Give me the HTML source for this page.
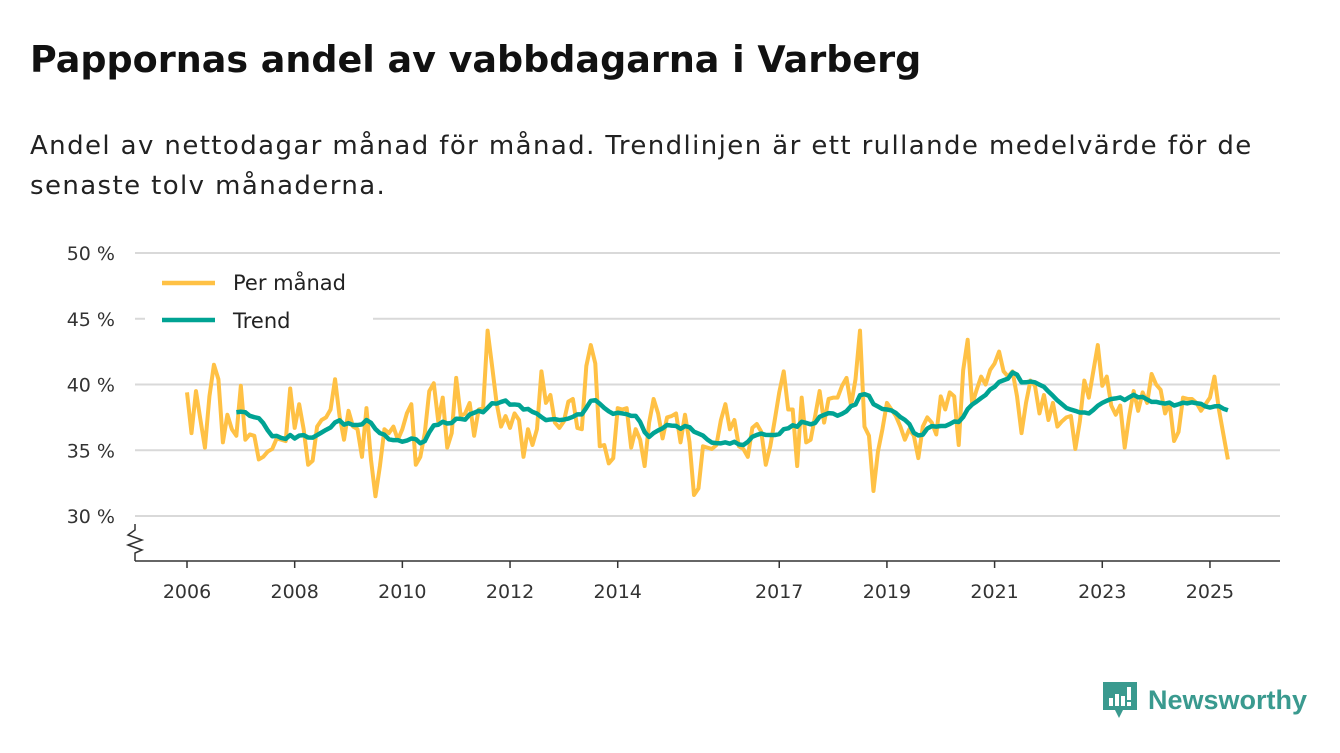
<!DOCTYPE html>
<html><head><meta charset="utf-8">
<style>
body{margin:0;width:1340px;height:753px;background:#fff;font-family:"Liberation Sans",sans-serif;overflow:hidden;position:relative;color:#111}
h1{position:absolute;left:30px;top:38px;margin:0;font-family:"DejaVu Sans",sans-serif;font-size:36.5px;font-weight:bold;color:#111;letter-spacing:0px;white-space:nowrap}
.sub{position:absolute;left:30px;top:126px;margin:0;font-family:"DejaVu Sans",sans-serif;font-size:26px;line-height:40px;color:#222;width:1300px;letter-spacing:1.4px}
svg{position:absolute;left:0;top:0}
</style></head><body>
<h1>Pappornas andel av vabbdagarna i Varberg</h1>
<p class="sub">Andel av nettodagar månad för månad. Trendlinjen är ett rullande medelvärde för de<br>senaste tolv månaderna.</p>
<svg id="chart" width="1340" height="753"></svg>
<div style="position:absolute;left:1103px;top:680px;height:40px;display:flex;align-items:center">
<svg width="34" height="40" style="position:static"><path d="M0 2h34v28H20l-4 8-4-8H0z" fill="#3a9a8f"/><rect x="6" y="18" width="4" height="8" fill="#fff"/><rect x="12" y="14" width="4" height="12" fill="#fff"/><rect x="18" y="16" width="4" height="10" fill="#fff"/><rect x="24" y="7" width="4" height="13" fill="#fff"/><rect x="24" y="22" width="4" height="4" fill="#fff"/></svg>
<span style="margin-left:11px;font-size:27px;font-weight:bold;color:#3a9a8f">Newsworthy</span>
</div>
<script>
const monthly=[39.4,36.3,39.5,37.3,35.2,39.1,41.5,40.4,35.6,37.7,36.6,36.1,
39.9,35.8,36.2,36.1,34.3,34.5,34.9,35.1,35.9,35.8,35.7,39.7,
36.7,38.5,36.6,33.9,34.2,36.8,37.3,37.5,38.1,40.4,37.6,35.8,
38.0,36.8,36.6,34.5,38.2,34.3,31.5,33.8,36.6,36.3,36.8,35.8,
36.6,37.8,38.5,33.9,34.5,36.3,39.5,40.1,37.2,39.0,35.2,36.3,
40.5,37.6,37.8,38.6,36.1,38.1,38.2,44.1,41.4,38.6,36.8,37.6,
36.7,37.8,37.3,34.5,36.6,35.4,36.6,41.0,38.6,39.2,37.1,36.7,
37.2,38.7,38.9,36.7,36.6,41.4,43.0,41.6,35.3,35.4,34.0,34.4,
38.2,38.1,38.2,35.2,36.6,35.8,33.8,37.1,38.9,37.8,35.9,37.5,
37.6,37.8,35.6,37.7,35.6,31.6,32.1,35.3,35.2,35.1,35.4,37.3,
38.5,36.6,37.3,35.3,35.1,34.5,36.7,37.0,36.4,33.9,35.3,37.3,
39.4,41.0,38.1,38.1,33.8,39.0,35.6,35.8,37.6,39.5,37.1,38.9,
39.0,39.0,39.9,40.5,38.4,40.4,44.1,36.8,36.1,31.9,34.9,36.6,
38.6,38.1,37.6,36.8,35.8,36.6,36.1,34.4,36.8,37.5,37.1,36.2,
39.1,38.1,39.4,39.1,35.4,41.1,43.4,38.5,39.6,40.6,40.0,41.1,
41.6,42.5,41.0,40.6,41.0,39.1,36.3,38.6,40.3,39.9,37.8,39.2,
37.3,38.6,36.8,37.2,37.5,37.6,35.1,37.2,40.3,39.0,41.0,43.0,
39.9,40.6,38.4,37.7,38.4,35.2,37.6,39.5,38.0,39.4,38.6,40.8,
40.0,39.6,37.8,38.6,35.7,36.4,39.0,38.9,38.9,38.6,38.0,38.5,
39.0,40.6,38.1,36.2,34.3];
const startYear=2006;
const yTicks=[30,35,40,45,50];
const yTickLabels=["30 %","35 %","40 %","45 %","50 %"];
const xTickYears=[2006,2008,2010,2012,2014,2017,2019,2021,2023,2025];

const NS="http://www.w3.org/2000/svg";
const svg=document.getElementById('chart');
const X0=187,PXY=53.84,Y50=253,PXV=13.15;
const FONT='DejaVu Sans, sans-serif';
function xScale(monthIndex){return X0+monthIndex*PXY/12;}
function yScale(v){return Y50+(50-v)*PXV;}
function mk(tag,attrs,parent){const e=document.createElementNS(NS,tag);for(const k in attrs)e.setAttribute(k,attrs[k]);(parent||svg).appendChild(e);return e;}

yTicks.forEach((t,i)=>{
  const g=mk('line',{x1:135,x2:1280,y1:yScale(t),y2:yScale(t),stroke:'#d9d9d9','stroke-width':2});
  
  
  const tx=mk('text',{x:115,y:yScale(t)+7,'text-anchor':'end','font-size':19,fill:'#333','font-family':FONT});
  tx.textContent=yTickLabels[i];
  
  
});
const ax=mk('line',{x1:135,x2:1280,y1:561,y2:561,stroke:'#333','stroke-width':1.5});


const br=mk('polyline',{points:'135,524 135,530 128,535 142,540 128,545 142,550 135,553 135,561',fill:'none',stroke:'#333','stroke-width':1.5});


xTickYears.forEach(y=>{
  const x=xScale((y-startYear)*12);
  const tk=mk('line',{x1:x,x2:x,y1:561,y2:568,stroke:'#333','stroke-width':1.5});
  
  
  const tx=mk('text',{x:x,y:598,'text-anchor':'middle','font-size':19,fill:'#333','font-family':FONT});
  tx.textContent=y;
  
  
});
const mp=mk('polyline',{points:monthly.map((v,i)=>xScale(i)+','+yScale(v)).join(' '),fill:'none',stroke:'#ffc145','stroke-width':4,'stroke-linejoin':'round'});


const trend=[];
for(let i=11;i<monthly.length;i++){let s=0;for(let j=i-11;j<=i;j++)s+=monthly[j];trend.push([i,s/12]);}
const tp=mk('polyline',{points:trend.map(p=>xScale(p[0])+','+yScale(p[1])).join(' '),fill:'none',stroke:'#00a393','stroke-width':4.5,'stroke-linejoin':'round'});


const lg=mk('g',{});


mk('rect',{x:145,y:264,width:228,height:78,fill:'#fff'},lg);
const l1=mk('line',{x1:162,x2:215,y1:283,y2:283,stroke:'#ffc145','stroke-width':4.5},lg);


const t1=mk('text',{x:233,y:290,'font-size':21,fill:'#222','font-family':FONT},lg);
t1.textContent='Per månad';


const l2=mk('line',{x1:162,x2:215,y1:320,y2:320,stroke:'#00a393','stroke-width':4.5},lg);


const t2=mk('text',{x:233,y:328,'font-size':21,fill:'#222','font-family':FONT},lg);
t2.textContent='Trend';


</script>
</body></html>
